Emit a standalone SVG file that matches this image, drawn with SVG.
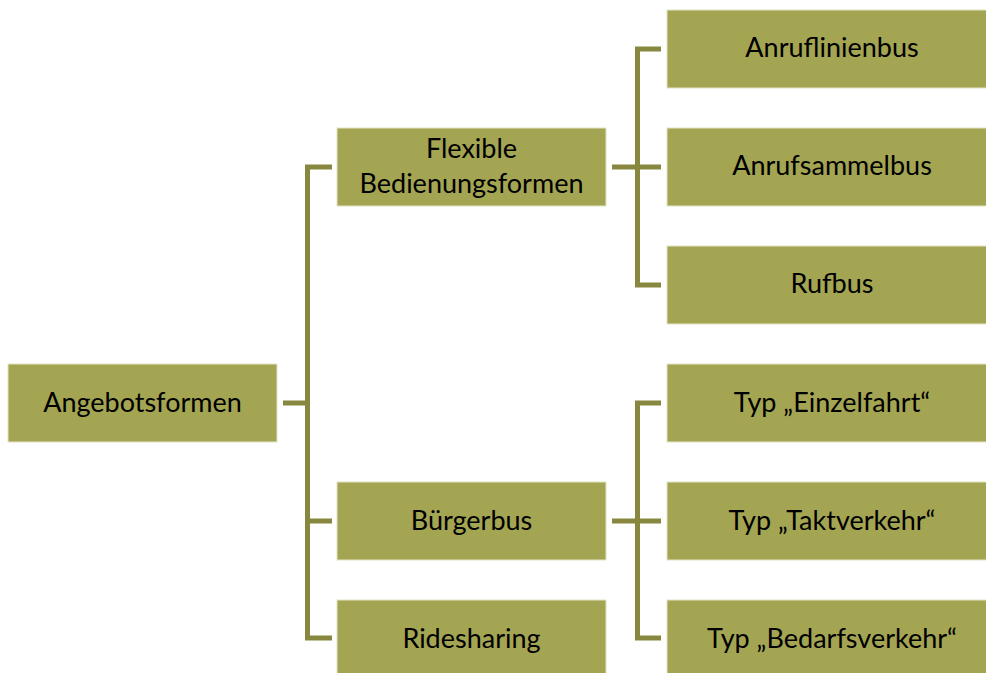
<svg xmlns="http://www.w3.org/2000/svg" width="986" height="673" viewBox="0 0 986 673">
<style>
.box{fill:#A4A552;stroke:#E4E4C8;stroke-width:1}
.lbl{font-family:Lato,"Liberation Sans",Arial,sans-serif;font-size:27px;fill:#000;text-anchor:middle}
.con{fill:none;stroke:#87873F;stroke-width:5;stroke-linejoin:miter}
</style>
<rect width="986" height="673" fill="#fff"/>
<g id="connectors">
<path class="con" d="M283 403 H307.5 M332 167 H307.5 V638 H332 M307.5 521 H332"/>
<path class="con" d="M612 167 H661 M661 49 H637.5 V285 H661"/>
<path class="con" d="M612 521 H661 M661 403 H637.5 V638 H661"/>
</g>
<g id="n-angebotsformen"><rect class="box" x="8" y="364" width="269" height="78"/><text class="lbl" x="142.5" y="412">Angebotsformen</text></g>
<g id="n-flexible"><rect class="box" x="337" y="128" width="269" height="78"/><text class="lbl" x="471.5" y="158">Flexible</text><text class="lbl" x="471.5" y="193">Bedienungsformen</text></g>
<g id="n-buergerbus"><rect class="box" x="337" y="482" width="269" height="78"/><text class="lbl" x="471.5" y="530">Bürgerbus</text></g>
<g id="n-ridesharing"><rect class="box" x="337" y="600" width="269" height="78"/><text class="lbl" x="471.5" y="648">Ridesharing</text></g>
<g id="n-anruflinienbus"><rect class="box" x="667" y="10" width="330" height="78"/><text class="lbl" x="832" y="57">Anruflinienbus</text></g>
<g id="n-anrufsammelbus"><rect class="box" x="667" y="128" width="330" height="78"/><text class="lbl" x="832" y="175">Anrufsammelbus</text></g>
<g id="n-rufbus"><rect class="box" x="667" y="246" width="330" height="78"/><text class="lbl" x="832" y="293">Rufbus</text></g>
<g id="n-einzelfahrt"><rect class="box" x="667" y="364" width="330" height="78"/><text class="lbl" x="832" y="412">Typ „Einzelfahrt“</text></g>
<g id="n-taktverkehr"><rect class="box" x="667" y="482" width="330" height="78"/><text class="lbl" x="832" y="530">Typ „Taktverkehr“</text></g>
<g id="n-bedarfsverkehr"><rect class="box" x="667" y="600" width="330" height="78"/><text class="lbl" x="832" y="648">Typ „Bedarfsverkehr“</text></g>
</svg>
